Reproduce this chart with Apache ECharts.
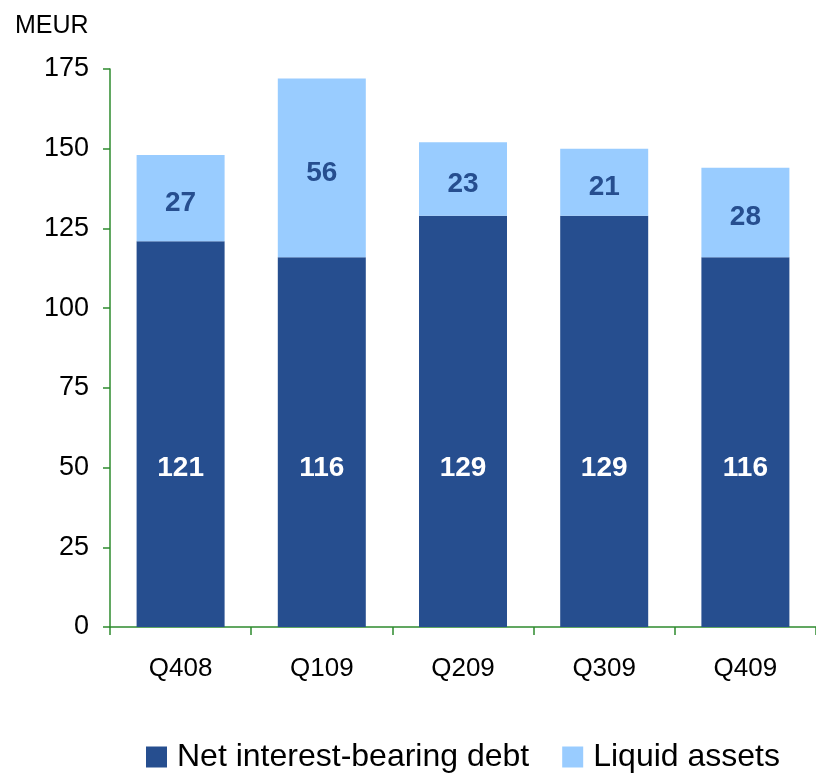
<!DOCTYPE html>
<html>
<head>
<meta charset="utf-8">
<script src="https://cdn.jsdelivr.net/npm/echarts@6/dist/echarts.min.js"></script>
<style>
  html, body { margin: 0; padding: 0; background: #fff; }
  #chart { width: 816px; height: 778px; }
</style>
</head>
<body>
<!-- chart container -->
<div id="chart"></div>
<script>
// data
const quarters = ['Q408', 'Q109', 'Q209', 'Q309', 'Q409']
const netDebt = [121, 116, 129, 129, 116]
const liquidAssets = [27, 56, 23, 21, 28]
const yTicks = { min: 0, max: 175, interval: 25 }

const darkBlue = '#264E8F'
const lightBlue = '#99CCFF'
const axisGreen = '#2E8B2E'
const font = 'Liberation Sans, Arial, sans-serif'

const option = {
  animation: false,
  title: {
    text: 'MEUR',
    left: 10,
    top: 9,
    textStyle: { fontFamily: font, fontSize: 25, fontWeight: 'normal', color: '#000' }
  },
  grid: { left: 110, right: 0, top: 69, bottom: 151 },
  legend: {
    bottom: 0,
    left: 141,
    icon: 'rect',
    itemWidth: 21,
    itemHeight: 21,
    itemGap: 33,
    textStyle: { fontFamily: font, fontSize: 32, color: '#000', padding: [0, 0, 0, 5] },
    data: ['Net interest-bearing debt', 'Liquid assets']
  },
  xAxis: {
    type: 'category',
    data: quarters,
    axisLine: { lineStyle: { color: axisGreen, width: 1.5 } },
    axisTick: { show: true, length: 8, lineStyle: { color: axisGreen, width: 1.5 } },
    axisLabel: { color: '#000', fontFamily: font, fontSize: 26, margin: 29 }
  },
  yAxis: {
    type: 'value',
    min: yTicks.min,
    max: yTicks.max,
    interval: yTicks.interval,
    axisLine: { show: true, lineStyle: { color: axisGreen, width: 1.5 } },
    axisTick: { show: true, length: 7, lineStyle: { color: axisGreen, width: 1.5 } },
    splitLine: { show: false },
    axisLabel: { color: '#000', fontFamily: font, fontSize: 27, margin: 21 }
  },
  series: [
    {
      name: 'Net interest-bearing debt',
      type: 'bar',
      stack: 'total',
      barWidth: 88,
      itemStyle: { color: darkBlue },
      label: {
        show: true,
        position: 'insideBottom',
        distance: 145,
        color: '#fff',
        fontFamily: font,
        fontSize: 28,
        fontWeight: 'bold'
      },
      data: netDebt
    },
    {
      name: 'Liquid assets',
      type: 'bar',
      stack: 'total',
      barWidth: 88,
      itemStyle: { color: lightBlue },
      label: {
        show: true,
        position: 'inside',
        offset: [0, 5],
        color: darkBlue,
        fontFamily: font,
        fontSize: 28,
        fontWeight: 'bold'
      },
      data: liquidAssets
    }
  ]
}

echarts.init(document.getElementById('chart')).setOption(option)
</script>
</body>
</html>
